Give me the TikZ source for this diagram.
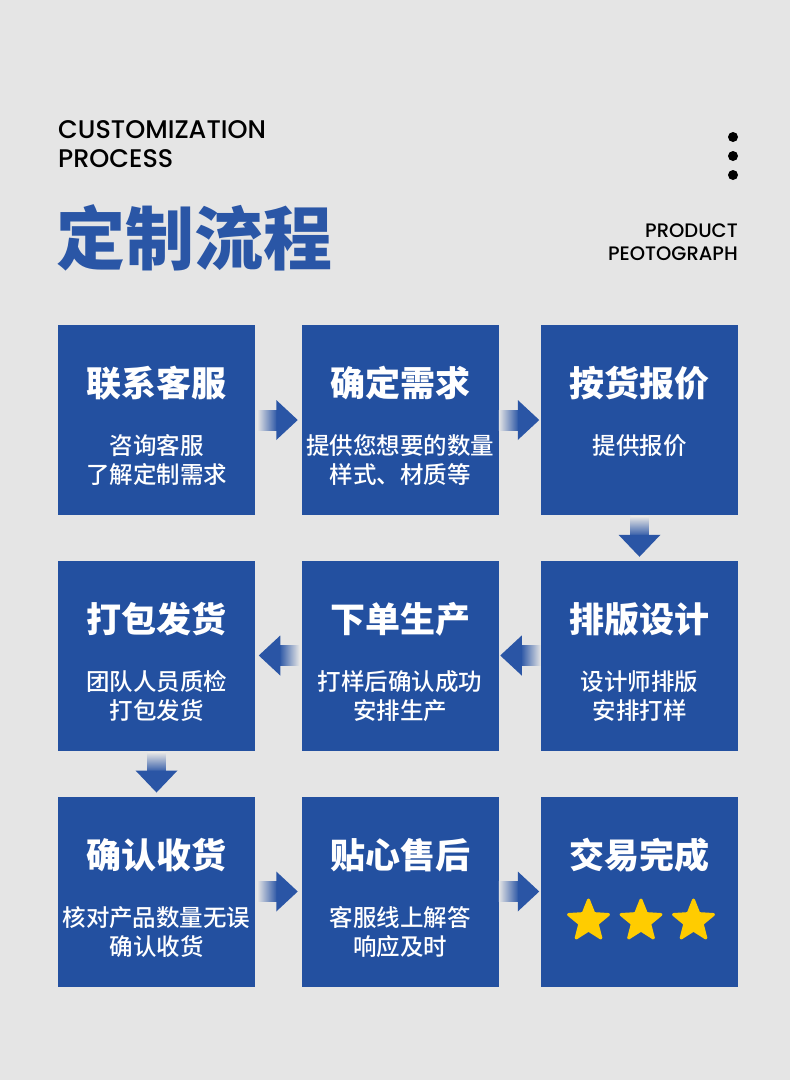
\documentclass[tikz,border=0pt]{standalone}
\usepackage{fontspec}
\setmainfont{Poppins}[UprightFont=* Medium]
\newfontfamily\cjk{Noto Sans CJK SC}
\newfontfamily\cjkm{Noto Sans CJK SC Medium}
\usetikzlibrary{calc,shapes.geometric}
\definecolor{bg}{HTML}{E5E5E5}
\definecolor{boxblue}{HTML}{2350A0}
\definecolor{ttlblue}{HTML}{2A56A6}
\definecolor{arrblue}{HTML}{2A55A5}
\definecolor{starY}{HTML}{FFCC00}
\tikzset{
  card/.style={fill=boxblue, minimum width=197pt, minimum height=190pt, inner sep=0pt, draw=none},
  ctitle/.style={text=white, font=\cjk\bfseries\fontsize{35}{40}\selectfont, anchor=base, inner sep=0pt},
  csub/.style={text=white, font=\cjkm\fontsize{23.5}{28}\selectfont, anchor=base, inner sep=0pt},
  entxt/.style={text=black, inner sep=0pt},
  dot/.style={circle, fill=black, minimum size=10pt, inner sep=0pt},
  starnode/.style={star, star points=5, star point ratio=2.3, minimum size=42pt, fill=starY, draw=starY, line width=3pt, line join=round, inner sep=0pt},
  rarr/.pic={\shade[left color=bg, right color=arrblue] (-21,-10) rectangle (-1,10);
             \fill[arrblue] (-2,-20) -- (19.5,0) -- (-2,20) -- cycle;},
  larr/.pic={\shade[left color=arrblue, right color=bg] (1,-10) rectangle (21,10);
             \fill[arrblue] (2,-20) -- (-19.5,0) -- (2,20) -- cycle;},
  darr/.pic={\shade[top color=bg, bottom color=arrblue] (-9,-21) rectangle (9,-1);
             \fill[arrblue] (-21,-3) -- (0,19) -- (21,-3) -- cycle;}
}
\begin{document}
\begin{tikzpicture}[x=1pt,y=-1pt]
\fill[bg] (0,0) rectangle (790,1080);
\useasboundingbox (0,0) rectangle (790,1080);

% header
\node[entxt, anchor=base west, font=\fontsize{25.5}{28}\selectfont] (en1) at (58,138) {CUSTOMIZATION};
\node[entxt, anchor=base west, font=\fontsize{25.5}{28}\selectfont] (en2) at (58,167) {PROCESS};
\node[anchor=base west, inner sep=0pt, text=ttlblue, font=\cjk\bfseries\fontsize{69}{80}\selectfont] (maintitle) at (56,264) {定制流程};
\node[entxt, anchor=base east, font=\fontsize{19.5}{22}\selectfont] (pr1) at (738,237) {PRODUCT};
\node[entxt, anchor=base east, font=\fontsize{19.5}{22}\selectfont] (pr2) at (738,260) {PEOTOGRAPH};
\node[dot] (d1) at (733,137) {};
\node[dot] (d2) at (733,156) {};
\node[dot] (d3) at (733,175) {};

% cards
\node[card] (b1) at (156.5,420) {};
\node[card] (b2) at (400,420) {};
\node[card] (b3) at (639.5,420) {};
\node[card] (b6) at (156.5,655.5) {};
\node[card] (b5) at (400,655.5) {};
\node[card] (b4) at (639.5,655.5) {};
\node[card] (b7) at (156.5,891.5) {};
\node[card] (b8) at (400,891.5) {};
\node[card] (b9) at (639.5,891.5) {};

% row 1 texts
\node[ctitle] (t1) at (156.5,396) {联系客服};
\node[csub] (s1a) at (156.5,454) {咨询客服};
\node[csub] (s1b) at (156.5,483) {了解定制需求};
\node[ctitle] (t2) at (400,396) {确定需求};
\node[csub] (s2a) at (400,454) {提供您想要的数量};
\node[csub] (s2b) at (400,483) {样式、材质等};
\node[ctitle] (t3) at (639.5,396) {按货报价};
\node[csub] (s3a) at (639.5,454) {提供报价};

% row 2 texts
\node[ctitle] (t6) at (156.5,632) {打包发货};
\node[csub] (s6a) at (156.5,690) {团队人员质检};
\node[csub] (s6b) at (156.5,719) {打包发货};
\node[ctitle] (t5) at (400,632) {下单生产};
\node[csub] (s5a) at (400,690) {打样后确认成功};
\node[csub] (s5b) at (400,719) {安排生产};
\node[ctitle] (t4) at (639.5,632) {排版设计};
\node[csub] (s4a) at (639.5,690) {设计师排版};
\node[csub] (s4b) at (639.5,719) {安排打样};

% row 3 texts
\node[ctitle] (t7) at (156.5,868) {确认收货};
\node[csub] (s7a) at (156.5,926) {核对产品数量无误};
\node[csub] (s7b) at (156.5,955) {确认收货};
\node[ctitle] (t8) at (400,868) {贴心售后};
\node[csub] (s8a) at (400,926) {客服线上解答};
\node[csub] (s8b) at (400,955) {响应及时};
\node[ctitle] (t9) at (639.5,868) {交易完成};
\node[starnode] (st1) at (588.5,921) {};
\node[starnode] (st2) at (641,921) {};
\node[starnode] (st3) at (693.5,921) {};

% arrows
\pic at ($(b1.east)!0.5!(b2.west)$) {rarr};
\pic at ($(b2.east)!0.5!(b3.west)$) {rarr};
\pic at ($(b3.south)!0.5!(b4.north)$) {darr};
\pic at ($(b4.west)!0.5!(b5.east)$) {larr};
\pic at ($(b5.west)!0.5!(b6.east)$) {larr};
\pic at ($(b6.south)!0.5!(b7.north)$) {darr};
\pic at ($(b7.east)!0.5!(b8.west)$) {rarr};
\pic at ($(b8.east)!0.5!(b9.west)$) {rarr};
\end{tikzpicture}
\end{document}
